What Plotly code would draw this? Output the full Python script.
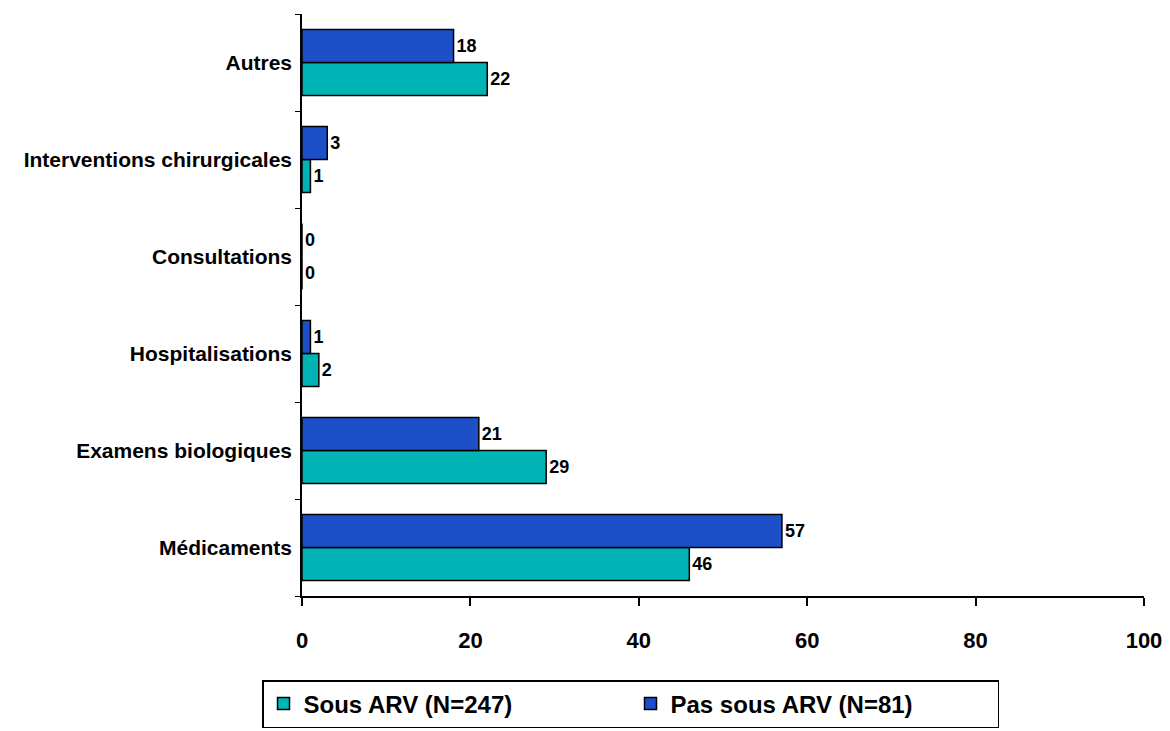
import plotly.graph_objects as go

categories = ["Médicaments", "Examens biologiques", "Hospitalisations",
              "Consultations", "Interventions chirurgicales", "Autres"]
sous_arv = [46, 29, 2, 0, 1, 22]
pas_sous_arv = [57, 21, 1, 0, 3, 18]

series_names = ["Sous ARV (N=247)", "Pas sous ARV (N=81)"]
x_ticks = [0, 20, 40, 60, 80, 100]

FONT = "Liberation Sans Narrow, Arial Narrow, Liberation Sans, Arial, sans-serif"
TEAL = "#00B4B6"
BLUE = "#1D4FC8"


def bar_trace(values, name, color):
    return go.Bar(
        y=categories, x=values, orientation="h", name=name,
        marker=dict(color=color, line=dict(color="black", width=1.5)),
        text=[str(v) for v in values], textposition="outside",
        textfont=dict(family=FONT, size=18, color="black", weight="bold"),
        cliponaxis=False,
    )


fig = go.Figure()
fig.add_trace(bar_trace(sous_arv, series_names[0], TEAL))
fig.add_trace(bar_trace(pas_sous_arv, series_names[1], BLUE))

fig.update_layout(
    width=1170, height=731,
    margin=dict(l=302, r=26, t=14, b=135, autoexpand=False),
    barmode="group", bargap=0.32, bargroupgap=0,
    plot_bgcolor="white", paper_bgcolor="white",
    font=dict(family=FONT, color="black", size=18, weight="bold"),
    uniformtext=dict(mode="show", minsize=10),
    xaxis=dict(
        range=[0, 100], tickvals=x_ticks, showgrid=False, zeroline=False,
        showline=True, linecolor="black", linewidth=1.5,
        ticks="outside", ticklen=8, tickcolor="black", tickwidth=1.5,
        ticklabelstandoff=16,
        tickfont=dict(family=FONT, size=22, color="black", weight="bold"),
    ),
    yaxis=dict(
        showgrid=False, showline=True, linecolor="black", linewidth=1.5,
        ticks="outside", ticklen=5, tickcolor="black", tickson="boundaries",
        ticklabelstandoff=4,
        tickfont=dict(family=FONT, size=21, color="black", weight="bold"),
    ),
    legend=dict(
        orientation="h", x=262 / 1170, xref="container",
        y=3 / 731, yref="container",
        xanchor="left", yanchor="bottom",
        bordercolor="black", borderwidth=1.5, bgcolor="white",
        font=dict(family=FONT, size=24, color="black", weight="bold"),
        itemwidth=30, entrywidth=322, traceorder="normal",
    ),
)

fig.write_html("out.html")
